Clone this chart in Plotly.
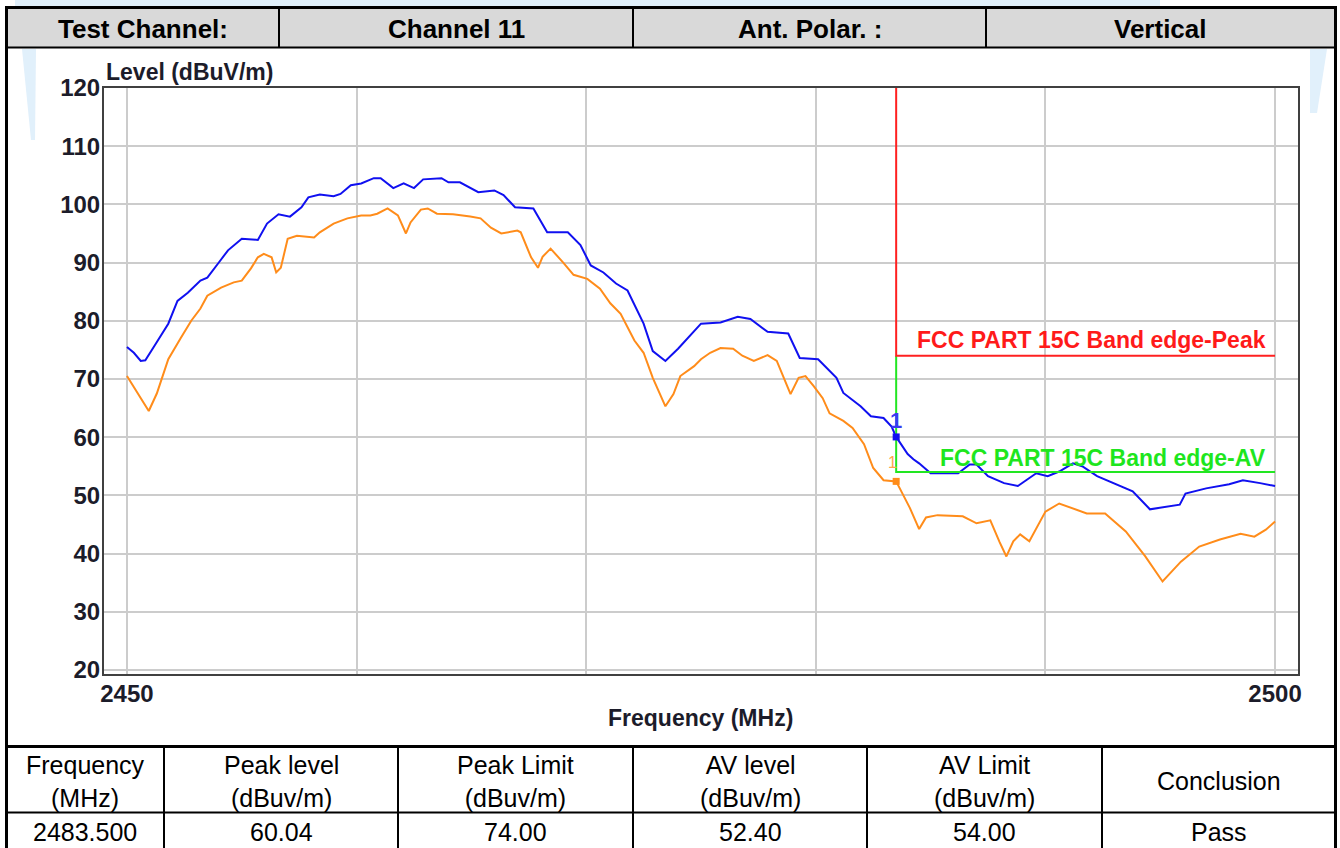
import plotly.graph_objects as go

# ---------------- data ----------------
peak_freq = [2450.0, 2450.3, 2450.6, 2450.8, 2451.2, 2451.8, 2452.2, 2452.65, 2453.2, 2453.5,
             2453.96, 2454.4, 2455.0, 2455.7, 2456.1, 2456.6, 2457.1, 2457.6, 2457.9, 2458.4,
             2459.0, 2459.3, 2459.75, 2460.2, 2460.75, 2461.05, 2461.6, 2462.05, 2462.5, 2462.9,
             2463.7, 2464.0, 2464.5, 2465.3, 2466.0, 2466.4, 2466.9, 2467.7, 2468.3, 2469.2,
             2469.75, 2470.2, 2470.75, 2471.3, 2471.8, 2472.5, 2472.9, 2473.45, 2474.0, 2474.4,
             2475.0, 2475.85, 2476.6, 2477.15, 2477.9, 2478.8, 2479.3, 2480.1, 2480.9, 2481.2,
             2481.95, 2482.4, 2482.95, 2483.3, 2483.5, 2484.0, 2484.25, 2484.5, 2485.0, 2485.7,
             2486.2, 2486.7, 2487.0, 2487.5, 2488.2, 2488.8, 2489.6, 2490.1, 2490.6, 2491.2,
             2491.6, 2492.25, 2492.95, 2493.8, 2494.55, 2495.3, 2495.85, 2496.1, 2497.0, 2498.0,
             2498.6, 2499.35, 2500.0]
peak_level = [75.5, 74.5, 73.1, 73.2, 75.7, 79.5, 83.4, 84.8, 86.9, 87.4,
              89.8, 92.1, 94.1, 93.9, 96.7, 98.3, 97.9, 99.5, 101.2, 101.7,
              101.4, 101.8, 103.3, 103.6, 104.5, 104.5, 102.8, 103.6, 102.8, 104.3,
              104.5, 103.8, 103.8, 102.1, 102.4, 101.6, 99.5, 99.3, 95.2, 95.2,
              93.0, 89.5, 88.3, 86.4, 85.2, 79.5, 74.8, 73.1, 75.2, 76.9,
              79.5, 79.7, 80.7, 80.3, 78.1, 77.8, 73.6, 73.4, 70.2, 67.6,
              65.3, 63.6, 63.3, 61.8, 60.04, 57.1, 56.2, 55.5, 53.8, 53.8,
              53.8, 55.3, 55.3, 53.3, 52.1, 51.6, 53.8, 53.3, 54.1, 55.5,
              55.0, 53.3, 52.1, 50.7, 47.6, 48.1, 48.4, 50.3, 51.2, 51.9,
              52.6, 52.1, 51.6]

av_freq = [2450.0, 2450.4, 2450.95, 2451.3, 2451.8, 2452.35, 2452.8, 2453.2, 2453.5, 2454.1,
           2454.65, 2455.0, 2455.4, 2455.7, 2455.96, 2456.3, 2456.5, 2456.7, 2457.0, 2457.4,
           2458.15, 2458.4, 2459.0, 2459.6, 2460.2, 2460.6, 2460.9, 2461.35, 2461.8, 2462.15,
           2462.35, 2462.8, 2463.1, 2463.5, 2464.2, 2464.95, 2465.4, 2465.85, 2466.3, 2467.0,
           2467.15, 2467.6, 2467.9, 2468.1, 2468.45, 2469.0, 2469.45, 2470.05, 2470.6, 2471.05,
           2471.5, 2472.1, 2472.5, 2472.9, 2473.45, 2473.8, 2474.1, 2474.7, 2475.0, 2475.4,
           2475.85, 2476.4, 2476.8, 2477.3, 2477.9, 2478.3, 2478.9, 2479.25, 2479.55, 2479.9,
           2480.3, 2480.6, 2481.2, 2481.6, 2482.1, 2482.5, 2482.95, 2483.5, 2484.1, 2484.5,
           2484.8, 2485.3, 2486.4, 2487.0, 2487.6, 2488.0, 2488.3, 2488.6, 2488.9, 2489.3,
           2490.0, 2490.6, 2491.2, 2491.8, 2492.6, 2493.5, 2494.35, 2495.1, 2495.9, 2496.7,
           2497.6, 2498.5, 2499.1, 2499.6, 2500.0]
av_level = [70.5, 68.0, 64.5, 67.5, 73.4, 77.1, 80.0, 82.1, 84.3, 85.7,
            86.6, 86.9, 89.0, 90.9, 91.5, 90.9, 88.3, 89.1, 94.1, 94.6,
            94.3, 95.2, 96.7, 97.6, 98.1, 98.1, 98.4, 99.3, 98.1, 95.0,
            96.9, 99.1, 99.3, 98.4, 98.3, 97.9, 97.6, 96.0, 95.0, 95.5,
            95.2, 90.9, 89.1, 91.0, 92.4, 90.0, 87.9, 87.2, 85.5, 83.0,
            81.2, 76.6, 74.5, 70.2, 65.3, 67.4, 70.5, 72.2, 73.4, 74.5,
            75.3, 75.2, 74.0, 73.1, 74.1, 73.1, 67.4, 70.2, 70.5, 68.8,
            66.7, 64.1, 62.8, 61.6, 58.8, 54.7, 52.6, 52.40, 47.8, 44.2,
            46.2, 46.6, 46.4, 45.2, 45.7, 42.0, 39.5, 42.1, 43.3, 42.1,
            47.2, 48.6, 47.8, 46.9, 46.9, 43.8, 39.5, 35.2, 38.6, 41.2,
            42.4, 43.4, 42.9, 44.1, 45.5]

band_edge = 2483.5
f_stop = 2500.0
peak_limit = 74.0
av_limit = 54.0
marker_peak = 60.04
marker_av = 52.40

x_ticks = [2450, 2460, 2470, 2480, 2490, 2500]
x_ticktext = ["2450", "", "", "", "", "2500"]
y_ticks = [20, 30, 40, 50, 60, 70, 80, 90, 100, 110, 120]

header_cells = ["Test Channel:", "Channel 11", "Ant. Polar. :", "Vertical"]
table_head = ["Frequency<br>(MHz)", "Peak level<br>(dBuv/m)", "Peak Limit<br>(dBuv/m)",
              "AV level<br>(dBuv/m)", "AV Limit<br>(dBuv/m)", "Conclusion"]
table_vals = ["2483.500", "60.04", "74.00", "52.40", "54.00", "Pass"]

# ---------------- layout geometry (pixels) ----------------
W, H = 1340, 848
PL, PR, PT, PB = 104, 1298, 88, 674

def px(x):
    return (x - PL) / (PR - PL)

def py(y):
    return (PB - y) / (PB - PT)

FONT = "Liberation Sans, Arial, sans-serif"

fig = go.Figure()

fig.add_trace(go.Scatter(x=av_freq, y=av_level, mode="lines",
                         line=dict(color="#ff8c1a", width=2), hoverinfo="skip"))
fig.add_trace(go.Scatter(x=peak_freq, y=peak_level, mode="lines",
                         line=dict(color="#1010f0", width=2), hoverinfo="skip"))
# limit lines
fig.add_trace(go.Scatter(x=[band_edge, band_edge, f_stop], y=[peak_limit, av_limit, av_limit],
                         mode="lines", line=dict(color="#22e622", width=2), hoverinfo="skip"))
fig.add_trace(go.Scatter(x=[band_edge, band_edge, f_stop], y=[120, peak_limit, peak_limit],
                         mode="lines", line=dict(color="#ff2020", width=2), hoverinfo="skip"))
# markers
fig.add_trace(go.Scatter(x=[band_edge], y=[marker_peak], mode="markers",
                         marker=dict(symbol="square", size=7, color="#1010f0"), hoverinfo="skip"))
fig.add_trace(go.Scatter(x=[band_edge], y=[marker_av], mode="markers",
                         marker=dict(symbol="square", size=7, color="#ff8c1a"), hoverinfo="skip"))

shapes = []
annotations = []

def line(x0, y0, x1, y1, w=2, color="black"):
    shapes.append(dict(type="line", xref="paper", yref="paper",
                       x0=px(x0), y0=py(y0), x1=px(x1), y1=py(y1),
                       line=dict(color=color, width=w)))

def rect(x0, y0, x1, y1, fill):
    shapes.append(dict(type="rect", xref="paper", yref="paper",
                       x0=px(x0), y0=py(y0), x1=px(x1), y1=py(y1),
                       fillcolor=fill, line=dict(width=0), layer="below"))

def text(x, y, s, size, bold=False, color="black", xanchor="center"):
    annotations.append(dict(xref="paper", yref="paper", x=px(x), y=py(y), text=s,
                            showarrow=False, xanchor=xanchor, yanchor="middle",
                            font=dict(family=FONT, size=size, color=color,
                                      weight="bold" if bold else "normal")))

def poly(points, fill):
    path = "M " + " L ".join("{} {}".format(px(a), py(b)) for a, b in points) + " Z"
    shapes.append(dict(type="path", xref="paper", yref="paper", layer="below",
                       path=path, fillcolor=fill, line=dict(width=0)))

# watermark pieces (pale blue)
wm = "#e1f0fb"
poly([(15, 0), (1160, 0), (1160, 8), (15, 8)], wm)
poly([(22, 49), (36, 49), (35, 140), (31, 140)], wm)
poly([(1310, 49), (1327, 49), (1317, 113), (1310, 113)], wm)

# header row
rect(7, 9, 1335, 47, "#d9d9d9")
hdr_edges = [7, 279, 633, 986, 1335]
for i, s in enumerate(header_cells):
    text((hdr_edges[i] + hdr_edges[i + 1]) / 2, 29, s, 26, bold=True)
for xe in hdr_edges[1:-1]:
    line(xe, 9, xe, 47, 2)
line(7, 47.5, 1335, 47.5, 2)

# outer border
line(6.5, 7.5, 1335.5, 7.5, 3)
line(6.5, 6, 6.5, 848, 3)
line(1335.5, 6, 1335.5, 848, 3)

# bottom table
tbl_edges = [6.5, 164, 398, 633, 867, 1102, 1335.5]
line(6.5, 746.5, 1335.5, 746.5, 3)
line(6.5, 812.5, 1335.5, 812.5, 2)
for xe in tbl_edges[1:-1]:
    line(xe, 746.5, xe, 848, 2)
for i in range(6):
    cx = (tbl_edges[i] + tbl_edges[i + 1]) / 2
    text(cx, 781, table_head[i], 25)
    text(cx, 832, table_vals[i], 25)

# chart texts
axis_col = "#1c1c2a"
text(PL, 72, "Level (dBuV/m)", 23, bold=True, color=axis_col, xanchor="left")
text(700, 718, "Frequency (MHz)", 23, bold=True, color=axis_col)

annotations.append(dict(x=2499.7, y=76.7, xref="x", yref="y", text="FCC PART 15C Band edge-Peak",
                        showarrow=False, xanchor="right", yanchor="middle",
                        font=dict(family=FONT, size=23, color="#ff1a1a", weight="bold")))
annotations.append(dict(x=2499.7, y=56.5, xref="x", yref="y", text="FCC PART 15C Band edge-AV",
                        showarrow=False, xanchor="right", yanchor="middle",
                        font=dict(family=FONT, size=23, color="#1ee61e", weight="bold")))
annotations.append(dict(x=band_edge, y=62.9, xref="x", yref="y", text="1",
                        showarrow=False, xanchor="center", yanchor="middle",
                        font=dict(family=FONT, size=22, color="#3a3af0", weight="bold")))
annotations.append(dict(x=band_edge - 0.15, y=55.6, xref="x", yref="y", text="1",
                        showarrow=False, xanchor="center", yanchor="middle",
                        font=dict(family=FONT, size=16, color="#ffa64d")))

fig.update_layout(
    width=W, height=H,
    margin=dict(l=PL, r=W - PR, t=PT, b=H - PB, pad=0),
    paper_bgcolor="white", plot_bgcolor="white",
    showlegend=False,
    shapes=shapes, annotations=annotations,
    font=dict(family=FONT),
)
fig.update_xaxes(range=[2449.0, 2501.0], tickvals=x_ticks, ticktext=x_ticktext,
                 showgrid=True, gridcolor="#cccccc", gridwidth=2, zeroline=False,
                 showline=True, mirror=True, linecolor="#404040", linewidth=2,
                 ticks="", ticklabelstandoff=-3,
                 tickfont=dict(family=FONT, size=24, color=axis_col, weight="bold"))
fig.update_yaxes(range=[19.3, 120.0], tickvals=y_ticks,
                 showgrid=True, gridcolor="#cccccc", gridwidth=2, zeroline=False,
                 showline=True, mirror=True, linecolor="#404040", linewidth=2,
                 ticks="", ticklabelstandoff=-3,
                 tickfont=dict(family=FONT, size=24, color=axis_col, weight="bold"))

fig.write_html("out.html", config={"displayModeBar": False},
               post_script="document.body.style.margin='0';document.body.style.overflow='hidden';")
